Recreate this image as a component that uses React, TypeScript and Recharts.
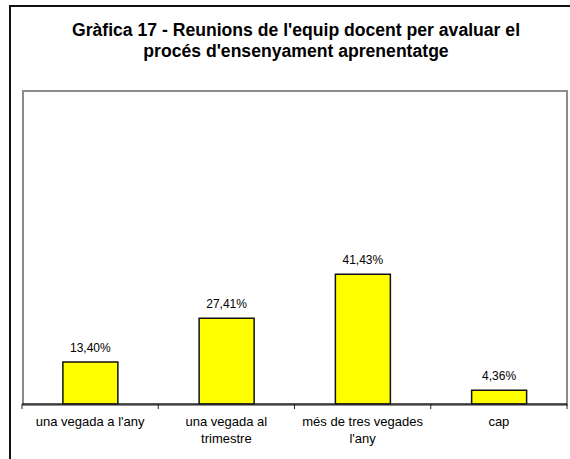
import React from "react";
import { BarChart, Bar, XAxis, YAxis, LabelList, Text } from "recharts";

const TITLE_LINES = [
  "Gràfica 17 - Reunions de l'equip docent per avaluar el",
  "procés d'ensenyament aprenentatge",
];
const CATEGORIES = [
  "una vegada a l'any",
  "una vegada al trimestre",
  "més de tres vegades l'any",
  "cap",
];
const PERCENTAGES = [13.4, 27.41, 41.43, 4.36];
const Y_DOMAIN: [number, number] = [0, 100];

const data = CATEGORIES.map((name, i) => ({ name, value: PERCENTAGES[i] }));

const W = 570;
const H = 459;
const MARGIN = { top: 91, right: 3, left: 22, bottom: 0 };
const AXIS_H = 55;
const FONT = "'Liberation Sans', Arial, sans-serif";
const HALF_BAND = (W - MARGIN.left - MARGIN.right) / CATEGORIES.length / 2;

const fmt = (v: any) => Number(v).toFixed(2).replace(".", ",") + "%";

function CategoryTick(props: any) {
  const { x, y, payload, index } = props;
  const isLast = index === CATEGORIES.length - 1 || payload.value === CATEGORIES[CATEGORIES.length - 1];
  return (
    <g>
      <line x1={x - HALF_BAND} y1={y} x2={x - HALF_BAND} y2={y + 5} stroke="#222" strokeWidth={1} />
      {isLast && (
        <line x1={x + HALF_BAND} y1={y} x2={x + HALF_BAND} y2={y + 5} stroke="#222" strokeWidth={1} />
      )}
      <Text
        x={x}
        y={y + 13}
        width={128}
        textAnchor="middle"
        verticalAnchor="start"
        lineHeight={17}
        fontSize={13}
        fontFamily={FONT}
        fill="#000"
      >
        {payload.value}
      </Text>
    </g>
  );
}

export default function App() {
  return (
    <div
      style={{
        position: "absolute",
        left: 0,
        top: 0,
        width: W,
        height: H,
        overflow: "hidden",
        background: "#fff",
      }}
    >
      <div
        style={{
          position: "absolute",
          left: 9,
          top: 5,
          width: 700,
          height: 700,
          border: "2px solid #111",
        }}
      />
      <div
        style={{
          position: "absolute",
          left: 0,
          top: 20,
          width: 592,
          textAlign: "center",
          fontFamily: FONT,
          fontWeight: "bold",
          fontSize: 17.6,
          lineHeight: "21px",
          color: "#000",
        }}
      >
        {TITLE_LINES.map((t) => (
          <div key={t}>{t}</div>
        ))}
      </div>
      <div
        style={{
          position: "absolute",
          left: 22,
          top: 90,
          width: 546,
          height: 316,
          boxSizing: "border-box",
          border: "2px solid #8c8c8c",
        }}
      />
      <div style={{ position: "absolute", left: 0, top: 0 }}>
        <BarChart width={W} height={H} data={data} margin={MARGIN} barCategoryGap="30%">
          <YAxis hide domain={Y_DOMAIN} type="number" />
          <XAxis
            dataKey="name"
            height={AXIS_H}
            interval={0}
            tickSize={0}
            tickMargin={0}
            tickLine={false}
            axisLine={{ stroke: "#222", strokeWidth: 1.5 }}
            tick={<CategoryTick />}
          />
          <Bar dataKey="value" fill="#FFFF00" stroke="#111" strokeWidth={1.5} isAnimationActive={false}>
            <LabelList
              dataKey="value"
              position="top"
              offset={10}
              formatter={fmt}
              fontSize={12}
              fontFamily={FONT}
              fill="#000"
            />
          </Bar>
        </BarChart>
      </div>
    </div>
  );
}
